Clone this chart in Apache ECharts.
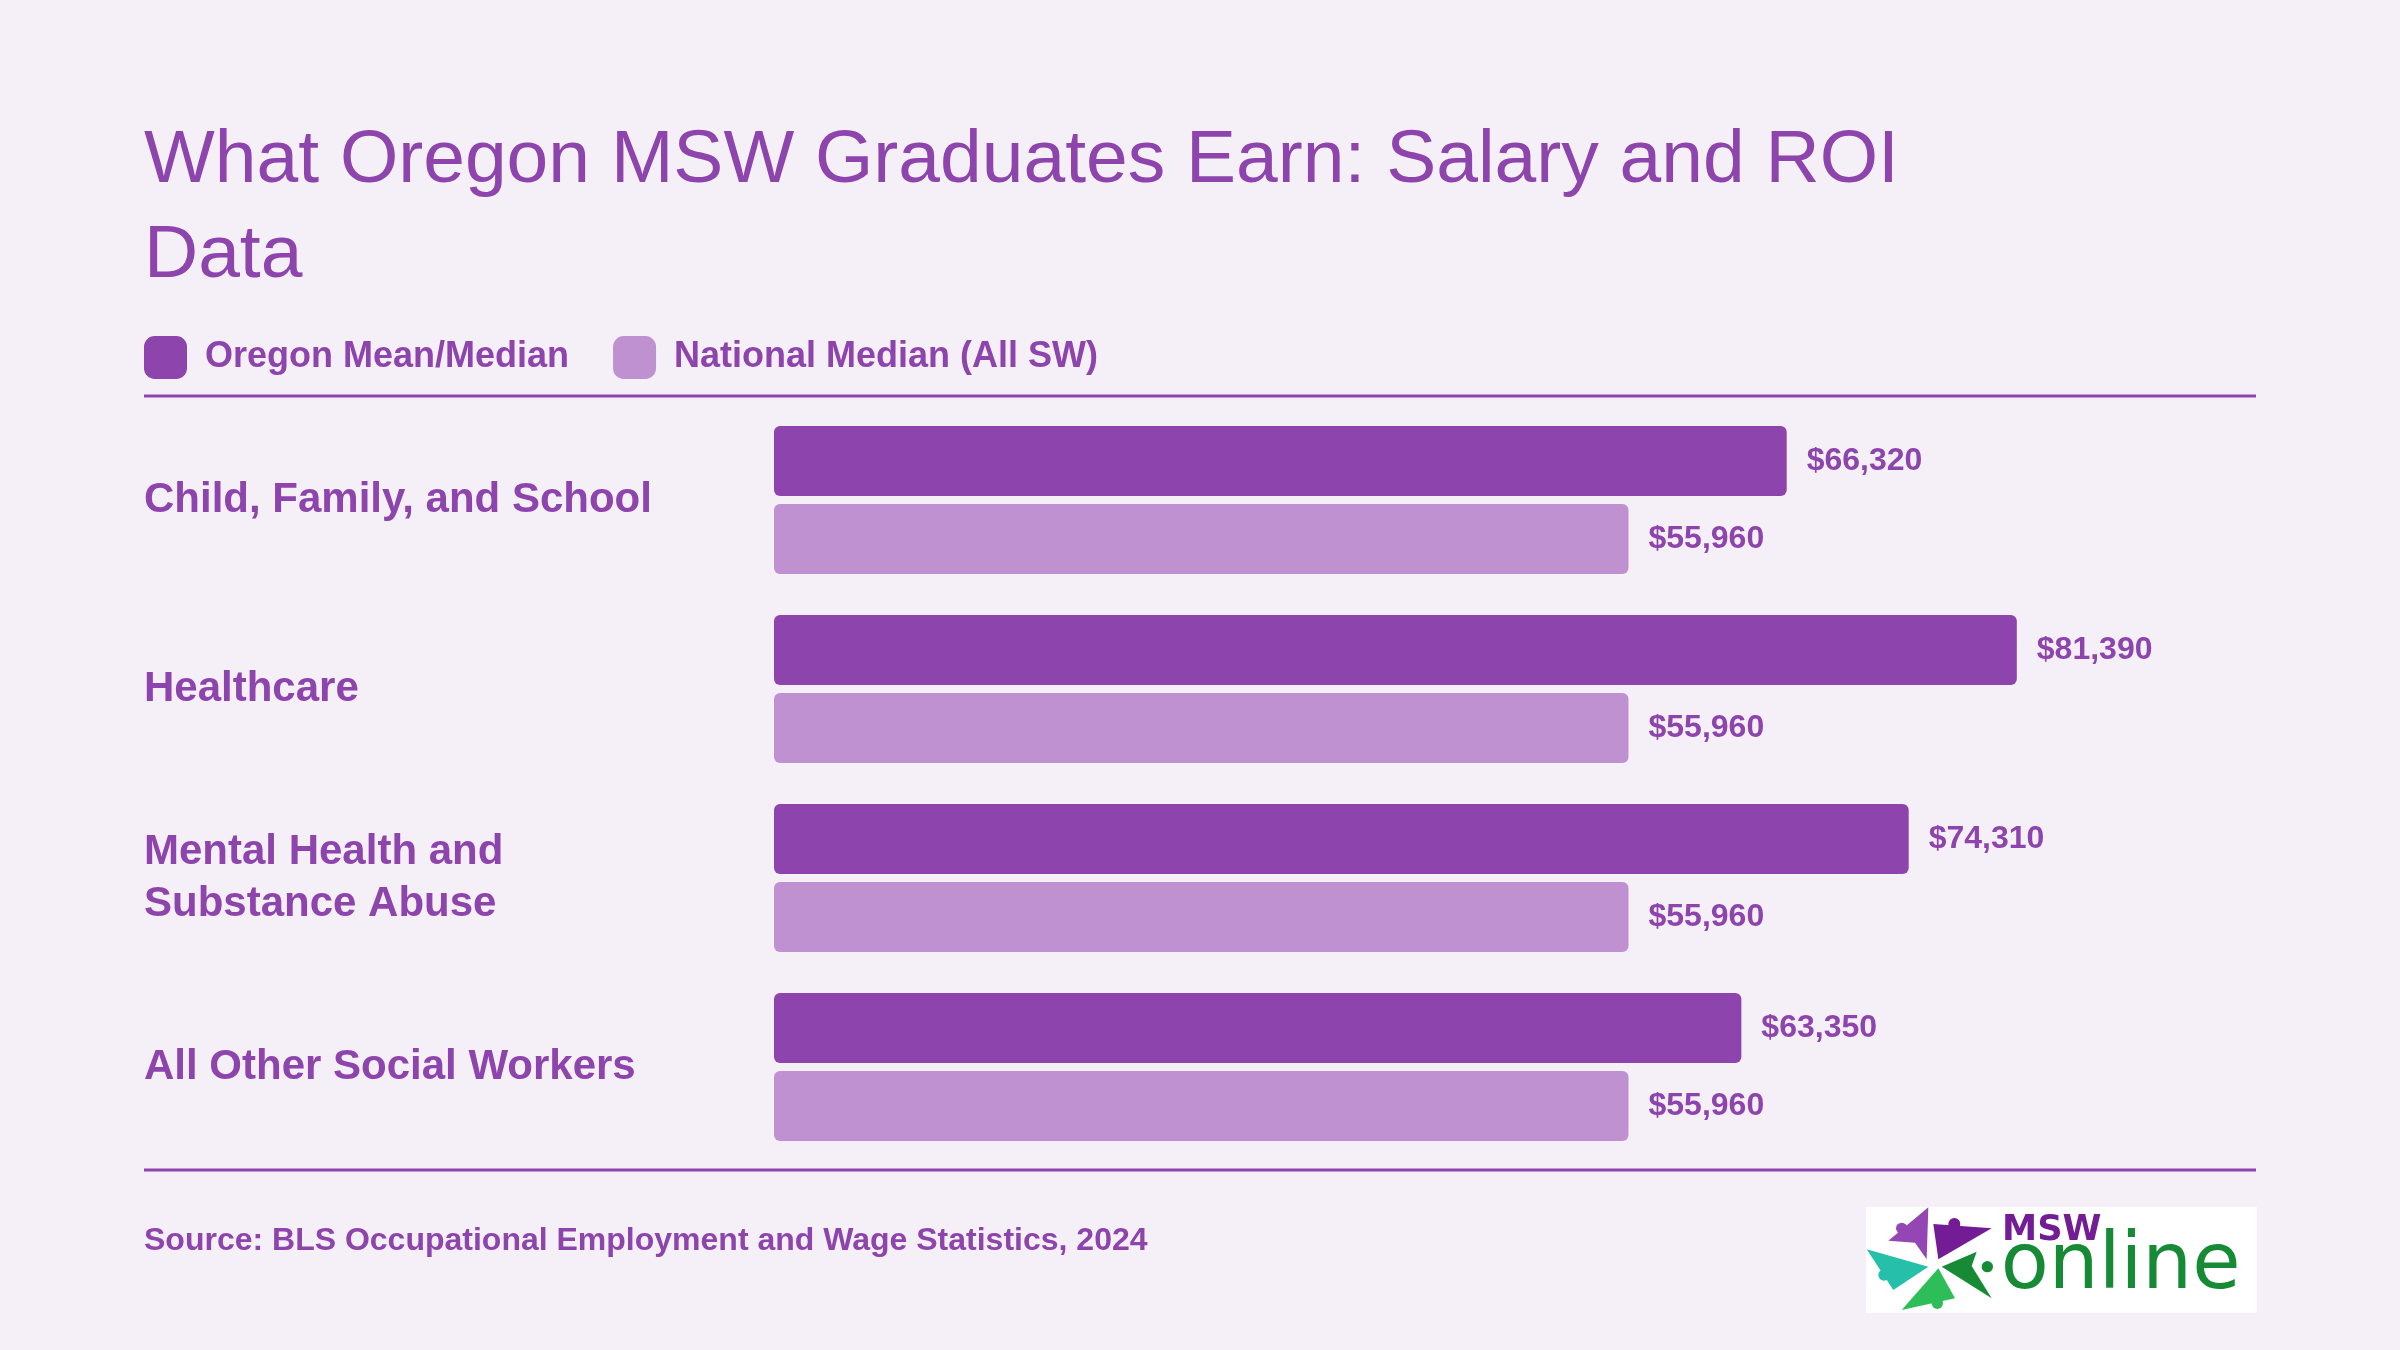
<!DOCTYPE html>
<html>
<head>
<meta charset="utf-8">
<title>Oregon MSW Salary</title>
<script src="https://cdn.jsdelivr.net/npm/echarts@6/dist/echarts.min.js"></script>
<style>
  html, body { margin: 0; padding: 0; background: #F5F0F7; }
  #main { width: 2400px; height: 1350px; }
</style>
</head>
<body>
<div id="main"></div>
<script>
// data
var categories = ['Child, Family, and School', 'Healthcare', 'Mental Health and\nSubstance Abuse', 'All Other Social Workers'];
var seriesNames = ['Oregon Mean/Median', 'National Median (All SW)'];
var oregonValues = [66320, 81390, 74310, 63350];
var nationalValues = [55960, 55960, 55960, 55960];

var purple = '#8E44AD';
var lightPurple = '#BF91D1';
var font = 'Liberation Sans, Arial, Helvetica, sans-serif';

var chart = echarts.init(document.getElementById('main'));

function money(p) {
    return '$' + p.value.toLocaleString('en-US');
}

// logo drawn in a 3x local space, then scaled down
var logo = {
    type: 'group',
    x: 1840,
    y: 1190,
    scaleX: 1 / 3,
    scaleY: 1 / 3,
    children: [
        { type: 'rect', shape: { x: 78, y: 50, width: 1172, height: 318 }, style: { fill: '#ffffff' } },
        { type: 'polygon', shape: { points: [[265, 52], [145, 152], [225, 158], [260, 208]] }, style: { fill: '#9446B4' } },
        { type: 'circle', shape: { cx: 185, cy: 115, r: 17 }, style: { fill: '#9446B4' } },
        { type: 'polygon', shape: { points: [[280, 102], [455, 115], [295, 208]] }, style: { fill: '#741C96' } },
        { type: 'circle', shape: { cx: 343, cy: 102, r: 18 }, style: { fill: '#741C96' } },
        { type: 'polygon', shape: { points: [[80, 178], [265, 230], [160, 300]] }, style: { fill: '#26BFAA' } },
        { type: 'circle', shape: { cx: 132, cy: 255, r: 17 }, style: { fill: '#26BFAA' } },
        { type: 'polygon', shape: { points: [[305, 230], [410, 185], [395, 228], [455, 325]] }, style: { fill: '#178A36' } },
        { type: 'circle', shape: { cx: 442, cy: 230, r: 17 }, style: { fill: '#178A36' } },
        { type: 'polygon', shape: { points: [[295, 235], [185, 360], [345, 325]] }, style: { fill: '#2DBE5A' } },
        { type: 'circle', shape: { cx: 292, cy: 340, r: 17 }, style: { fill: '#2DBE5A' } },
        {
            type: 'text', x: 486, y: 174,
            style: { text: 'MSW', fill: '#741C96', font: 'bold 106px DejaVu Sans', textVerticalAlign: 'bottom' }
        },
        {
            type: 'text', x: 482, y: 350,
            style: { text: 'online', fill: '#178A36', font: '236px DejaVu Sans', textVerticalAlign: 'bottom' }
        }
    ]
};

var option = {
    backgroundColor: '#F5F0F7',
    textStyle: { fontFamily: font },
    title: {
        text: 'What Oregon MSW Graduates Earn: Salary and ROI\nData',
        left: 144,
        top: 114,
        padding: 0,
        textStyle: {
            fontFamily: font,
            fontSize: 75,
            fontWeight: 'normal',
            lineHeight: 95,
            color: purple
        }
    },
    legend: {
        data: seriesNames,
        left: 144,
        top: 336,
        padding: 0,
        icon: 'roundRect',
        itemWidth: 43,
        itemHeight: 43,
        itemGap: 44,
        textStyle: {
            fontFamily: font,
            fontSize: 36,
            fontWeight: 'bold',
            color: purple,
            padding: [0, 0, 0, 13]
        }
    },
    grid: {
        left: 774,
        right: 99,
        top: 405.5,
        bottom: 188.5,
        containLabel: false
    },
    xAxis: {
        type: 'value',
        min: 0,
        max: 100000,
        show: false
    },
    yAxis: {
        type: 'category',
        data: categories,
        inverse: true,
        axisLine: { show: false },
        axisTick: { show: false },
        axisLabel: {
            margin: 630,
            align: 'left',
            fontFamily: font,
            fontSize: 42,
            fontWeight: 'bold',
            lineHeight: 52,
            color: purple
        }
    },
    series: [
        {
            name: seriesNames[0],
            type: 'bar',
            data: oregonValues,
            barWidth: 70,
            barGap: '11.4%',
            itemStyle: { color: purple, borderRadius: 6 },
            label: {
                show: true,
                position: 'right',
                distance: 20,
                formatter: money,
                fontFamily: font,
                fontSize: 32,
                fontWeight: 'bold',
                color: purple
            }
        },
        {
            name: seriesNames[1],
            type: 'bar',
            data: nationalValues,
            barWidth: 70,
            barGap: '11.4%',
            itemStyle: { color: lightPurple, borderRadius: 6 },
            label: {
                show: true,
                position: 'right',
                distance: 20,
                formatter: money,
                fontFamily: font,
                fontSize: 32,
                fontWeight: 'bold',
                color: purple
            }
        }
    ],
    graphic: [
        { type: 'rect', shape: { x: 144, y: 394.5, width: 2112, height: 3 }, style: { fill: purple } },
        { type: 'rect', shape: { x: 144, y: 1168.5, width: 2112, height: 3 }, style: { fill: purple } },
        {
            type: 'text', x: 144, y: 1241,
            style: {
                text: 'Source: BLS Occupational Employment and Wage Statistics, 2024',
                fill: purple,
                font: 'bold 32px ' + font,
                textVerticalAlign: 'middle'
            }
        },
        logo
    ]
};

chart.setOption(option);
</script>
</body>
</html>
